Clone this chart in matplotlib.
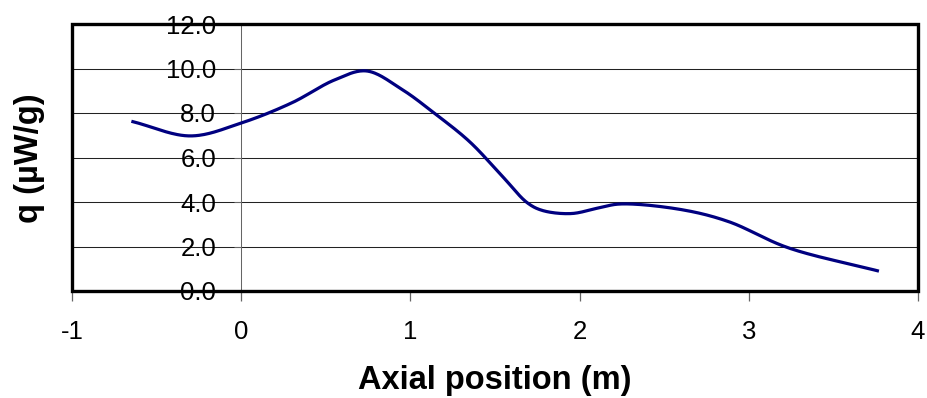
import numpy as np
import matplotlib
matplotlib.use("Agg")
import matplotlib.pyplot as plt
from matplotlib.patches import Rectangle
from matplotlib.ticker import FormatStrFormatter

plt.rcParams['font.family'] = ['Liberation Sans', 'DejaVu Sans']
plt.rcParams['axes.unicode_minus'] = False

# axial heat generation profile
pos = [-0.64, -0.30, 0.0, 0.30, 0.55, 0.74, 0.95, 1.14, 1.35, 1.55, 1.69, 1.78,
       1.95, 2.11, 2.24, 2.60, 2.88, 3.23, 3.76]
q = [7.61, 6.97, 7.55, 8.46, 9.48, 9.89, 9.06, 8.00, 6.71, 5.10, 3.97, 3.62,
     3.48, 3.73, 3.91, 3.66, 3.12, 1.95, 0.91]

x_ticks = [-1, 0, 1, 2, 3, 4]
y_ticks = [0, 2, 4, 6, 8, 10, 12]


def smooth(xs, ys, sx=169.3, sy=22.25, n=30):
    # centripetal catmull-rom, worked out in screen-like units
    pts = np.column_stack([np.asarray(xs) * sx, np.asarray(ys) * sy]).astype(float)
    pts = np.vstack([2 * pts[0] - pts[1], pts, 2 * pts[-1] - pts[-2]])
    out = []
    for i in range(1, len(pts) - 2):
        p0, p1, p2, p3 = pts[i - 1], pts[i], pts[i + 1], pts[i + 2]
        t0 = 0.0
        t1 = t0 + np.linalg.norm(p1 - p0) ** 0.5
        t2 = t1 + np.linalg.norm(p2 - p1) ** 0.5
        t3 = t2 + np.linalg.norm(p3 - p2) ** 0.5
        t = np.linspace(t1, t2, n, endpoint=False)[:, None]
        a1 = (t1 - t) / (t1 - t0) * p0 + (t - t0) / (t1 - t0) * p1
        a2 = (t2 - t) / (t2 - t1) * p1 + (t - t1) / (t2 - t1) * p2
        a3 = (t3 - t) / (t3 - t2) * p2 + (t - t2) / (t3 - t2) * p3
        b1 = (t2 - t) / (t2 - t0) * a1 + (t - t0) / (t2 - t0) * a2
        b2 = (t3 - t) / (t3 - t1) * a2 + (t - t1) / (t3 - t1) * a3
        out.append((t2 - t) / (t2 - t1) * b1 + (t - t1) / (t2 - t1) * b2)
    out.append(pts[-2][None, :])
    out = np.vstack(out)
    return out[:, 0] / sx, out[:, 1] / sy


fig = plt.figure(figsize=(9.27, 3.98), dpi=100)
ax = fig.add_axes([72 / 927, 1 - 291 / 398, 846 / 927, 267 / 398])

ax.set_xlim(-1, 4)
ax.set_ylim(0, 12)

for yv in y_ticks[1:-1]:
    ax.axhline(yv, color='#222222', lw=0.75, zorder=1)

cx, cy = smooth(pos, q)
ax.plot(cx, cy, color='#000080', lw=2.3, zorder=3)

# y axis sits at x = 0, frame drawn separately
for s in ['top', 'right', 'bottom']:
    ax.spines[s].set_visible(False)
ax.spines['left'].set_position(('data', 0))
ax.spines['left'].set_color('#666666')
ax.spines['left'].set_linewidth(0.75)

ax.add_patch(Rectangle((0, 0), 1, 1, transform=ax.transAxes, fill=False,
                       edgecolor='black', lw=2.4, clip_on=False, zorder=4))

ax.set_xticks(x_ticks)
ax.set_yticks(y_ticks)
ax.yaxis.set_major_formatter(FormatStrFormatter('%.1f'))
ax.tick_params(axis='y', direction='out', length=5, width=0.75, color='#666666',
               labelsize=18.5, pad=13)
ax.tick_params(axis='x', direction='out', length=7, width=0.9, color='#666666',
               labelsize=18.5, pad=14)

fig.text(495 / 927, 1 - 381 / 398, 'Axial position (m)', ha='center', va='center',
         fontsize=23.5, fontweight='bold')
fig.text(30 / 927, 1 - 158 / 398, 'q (\u00b5W/g)', ha='center', va='center',
         rotation=90, fontsize=23.5, fontweight='bold')

fig.savefig('out.png', dpi=100)
